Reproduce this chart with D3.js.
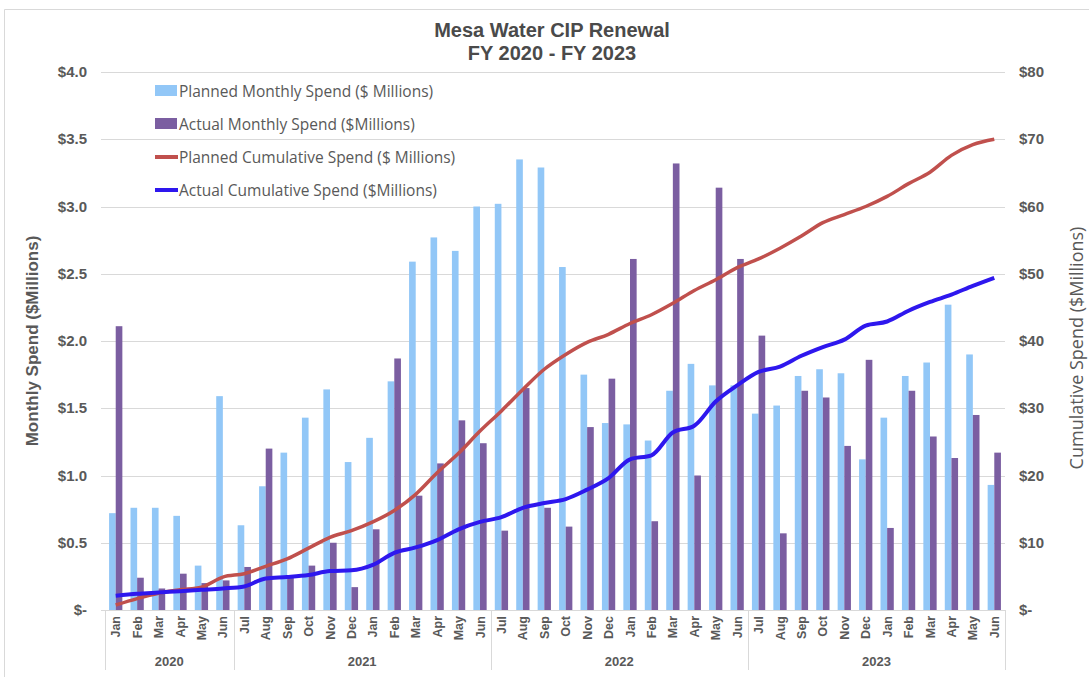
<!DOCTYPE html>
<html>
<head>
<meta charset="utf-8">
<script src="https://cdn.jsdelivr.net/npm/d3@7"></script>
<style>
  body { margin: 0; background: #fff; }
  svg { display: block; }
</style>
</head>
<body>
<svg id="chart" width="1089" height="677"></svg>
<script>
// month labels for each bar, grouped by fiscal year
const monthLabels = [
  "Jan", "Feb", "Mar", "Apr", "May", "Jun",
  "Jul", "Aug", "Sep", "Oct", "Nov", "Dec", "Jan", "Feb", "Mar", "Apr", "May", "Jun",
  "Jul", "Aug", "Sep", "Oct", "Nov", "Dec", "Jan", "Feb", "Mar", "Apr", "May", "Jun",
  "Jul", "Aug", "Sep", "Oct", "Nov", "Dec", "Jan", "Feb", "Mar", "Apr", "May", "Jun",
];
const yearLabels = ["2020", "2021", "2022", "2023"];
const monthsPerYear = [6, 12, 12, 12];

// $ millions
const plannedMonthly = [
  0.72, 0.76, 0.76, 0.7, 0.33, 1.59,
  0.63, 0.92, 1.17, 1.43, 1.64, 1.1, 1.28, 1.7, 2.59, 2.77, 2.67, 3.0,
  3.02, 3.35, 3.29, 2.55, 1.75, 1.39, 1.38, 1.26, 1.63, 1.83, 1.67, 1.67,
  1.46, 1.52, 1.74, 1.79, 1.76, 1.12, 1.43, 1.74, 1.84, 2.27, 1.9, 0.93,
];
const actualMonthly = [
  2.11, 0.24, 0.16, 0.27, 0.2, 0.22,
  0.32, 1.2, 0.25, 0.33, 0.5, 0.17, 0.6, 1.87, 0.85, 1.09, 1.41, 1.24,
  0.59, 1.65, 0.76, 0.62, 1.36, 1.72, 2.61, 0.66, 3.32, 1.0, 3.14, 2.61,
  2.04, 0.57, 1.63, 1.58, 1.22, 1.86, 0.61, 1.63, 1.29, 1.13, 1.45, 1.17,
];
const plannedCumulative = [
  0.74, 1.7, 2.5, 3.0, 3.4, 4.9,
  5.4, 6.5, 7.6, 9.2, 10.8, 11.8, 13.1, 14.8, 17.2, 20.4, 23.3, 26.6,
  29.6, 32.8, 35.8, 38.0, 39.8, 41.0, 42.6, 43.9, 45.6, 47.5, 49.1, 50.9,
  52.2, 53.8, 55.6, 57.6, 58.8, 60.0, 61.5, 63.4, 65.1, 67.6, 69.2, 70.0,
];
const actualCumulative = [
  2.1, 2.4, 2.6, 2.8, 3.0, 3.2,
  3.5, 4.7, 4.9, 5.2, 5.8, 5.9, 6.7, 8.5, 9.3, 10.4, 12.0, 13.1,
  13.8, 15.2, 15.9, 16.5, 17.9, 19.6, 22.4, 23.0, 26.4, 27.4, 31.0, 33.4,
  35.4, 36.2, 37.8, 39.1, 40.2, 42.3, 42.9, 44.5, 45.8, 46.9, 48.2, 49.4,
];
const leftTicks = [0, 0.5, 1, 1.5, 2, 2.5, 3, 3.5, 4];
const rightTicks = [0, 10, 20, 30, 40, 50, 60, 70, 80];

const legendItems = [
  { label: "Planned Monthly Spend ($ Millions)", type: "bar", color: "#92c7f7" },
  { label: "Actual Monthly Spend ($Millions)", type: "bar", color: "#7b5ea1" },
  { label: "Planned Cumulative Spend ($ Millions)", type: "line", color: "#c0504d" },
  { label: "Actual Cumulative Spend ($Millions)", type: "line", color: "#2e17ee" },
];

const width = 1089;
const height = 677;
const margin = { top: 72, right: 84, bottom: 67, left: 105 };
const textColor = "#595959";
const gridColor = "#d9d9d9";

const svg = d3.select("#chart");

// outer chart frame
svg.append("path")
  .attr("d", `M4.5,${height}V9.5H${width}`)
  .attr("fill", "none")
  .attr("stroke", gridColor);

const idx = d3.range(monthLabels.length);

const x = d3.scaleBand()
  .domain(idx)
  .range([margin.left, width - margin.right])
  .padding(0);

const yLeft = d3.scaleLinear()
  .domain([0, 4])
  .range([height - margin.bottom, margin.top]);

const yRight = d3.scaleLinear()
  .domain([0, 80])
  .range([height - margin.bottom, margin.top]);

const barW = x.bandwidth() * 0.31;
const cx = (i) => x(i) + x.bandwidth() / 2;

// gridlines
svg.append("g")
  .selectAll("line")
  .data(leftTicks)
  .join("line")
  .attr("x1", margin.left - 4)
  .attr("x2", width - margin.right)
  .attr("y1", (d) => Math.round(yLeft(d)) + 0.5)
  .attr("y2", (d) => Math.round(yLeft(d)) + 0.5)
  .attr("stroke", gridColor)
  .attr("stroke-width", 1);

// left axis labels
svg.append("g")
  .selectAll("text")
  .data(leftTicks)
  .join("text")
  .attr("x", 87)
  .attr("y", (d) => yLeft(d) + 5)
  .attr("text-anchor", "end")
  .attr("font-family", "Liberation Sans, Arial, sans-serif")
  .attr("font-size", "15px")
  .attr("font-weight", "bold")
  .attr("fill", textColor)
  .text((d) => (d === 0 ? "$-" : "$" + d.toFixed(1)));

// right axis labels
svg.append("g")
  .selectAll("text")
  .data(rightTicks)
  .join("text")
  .attr("x", 1019)
  .attr("y", (d) => yRight(d) + 5)
  .attr("text-anchor", "start")
  .attr("font-family", "Liberation Sans, Arial, sans-serif")
  .attr("font-size", "15px")
  .attr("font-weight", "bold")
  .attr("fill", textColor)
  .text((d) => (d === 0 ? "$-" : "$" + d));

// bars
svg.append("g")
  .selectAll("rect")
  .data(idx)
  .join("rect")
  .attr("x", (i) => cx(i) - barW)
  .attr("y", (i) => yLeft(plannedMonthly[i]))
  .attr("width", barW)
  .attr("height", (i) => yLeft(0) - yLeft(plannedMonthly[i]))
  .attr("fill", legendItems[0].color);

svg.append("g")
  .selectAll("rect")
  .data(idx)
  .join("rect")
  .attr("x", (i) => cx(i))
  .attr("y", (i) => yLeft(actualMonthly[i]))
  .attr("width", barW)
  .attr("height", (i) => yLeft(0) - yLeft(actualMonthly[i]))
  .attr("fill", legendItems[1].color);

// cumulative lines
const line = d3.line()
  .x((d, i) => cx(i))
  .y((d) => yRight(d))
  .curve(d3.curveMonotoneX);

svg.append("path")
  .datum(plannedCumulative)
  .attr("fill", "none")
  .attr("stroke", legendItems[2].color)
  .attr("stroke-width", 3.5)
  .attr("stroke-linejoin", "round")
  .attr("d", line);

svg.append("path")
  .datum(actualCumulative)
  .attr("fill", "none")
  .attr("stroke", legendItems[3].color)
  .attr("stroke-width", 4)
  .attr("stroke-linejoin", "round")
  .attr("d", line);

// x axis: months then fiscal years
const baseY = yLeft(0);
svg.append("line")
  .attr("x1", margin.left)
  .attr("x2", width - margin.right)
  .attr("y1", Math.round(baseY) + 0.5)
  .attr("y2", Math.round(baseY) + 0.5)
  .attr("stroke", gridColor);

svg.append("g")
  .selectAll("text")
  .data(idx)
  .join("text")
  .attr("transform", (i) => `translate(${cx(i) + 4.5},${baseY + 6}) rotate(-90)`)
  .attr("text-anchor", "end")
  .attr("font-family", "Liberation Sans, Arial, sans-serif")
  .attr("font-size", "12.5px")
  .attr("font-weight", "bold")
  .attr("fill", textColor)
  .text((i) => monthLabels[i]);

const starts = d3.cumsum([0, ...monthsPerYear]);
svg.append("g")
  .selectAll("line")
  .data(starts)
  .join("line")
  .attr("x1", (s) => Math.round(s < idx.length ? x(s) : x(idx.length - 1) + x.bandwidth()) + 0.5)
  .attr("x2", (s) => Math.round(s < idx.length ? x(s) : x(idx.length - 1) + x.bandwidth()) + 0.5)
  .attr("y1", baseY)
  .attr("y2", baseY + 60)
  .attr("stroke", gridColor);

svg.append("g")
  .selectAll("text")
  .data(yearLabels)
  .join("text")
  .attr("x", (d, k) => (x(starts[k]) + x(starts[k + 1] - 1) + x.bandwidth()) / 2)
  .attr("y", baseY + 56)
  .attr("text-anchor", "middle")
  .attr("font-family", "Liberation Sans, Arial, sans-serif")
  .attr("font-size", "13px")
  .attr("font-weight", "bold")
  .attr("fill", textColor)
  .text((d) => d);

// axis titles
svg.append("text")
  .attr("transform", `translate(38,${(margin.top + baseY) / 2}) rotate(-90)`)
  .attr("text-anchor", "middle")
  .attr("font-family", "Liberation Sans, Arial, sans-serif")
  .attr("font-size", "17px")
  .attr("font-weight", "bold")
  .attr("fill", textColor)
  .text("Monthly Spend ($Millions)");

svg.append("text")
  .attr("transform", `translate(1083,${(margin.top + baseY) / 2 + 7}) rotate(-90)`)
  .attr("text-anchor", "middle")
  .attr("font-family", "Open Sans, sans-serif")
  .attr("font-size", "18px")
  .attr("fill", textColor)
  .text("Cumulative Spend ($Millions)");

// title
const title = svg.append("text")
  .attr("text-anchor", "middle")
  .attr("font-family", "Liberation Sans, Arial, sans-serif")
  .attr("font-size", "20px")
  .attr("font-weight", "bold")
  .attr("fill", "#4a4a4a");
title.append("tspan").attr("x", 552).attr("y", 37).text("Mesa Water CIP Renewal");
title.append("tspan").attr("x", 552).attr("y", 60).text("FY 2020 - FY 2023");

// legend
const legend = svg.append("g").attr("transform", "translate(155,91)");
const rows = legend.selectAll("g")
  .data(legendItems)
  .join("g")
  .attr("transform", (d, i) => `translate(0,${i * 33})`);

rows.filter((d) => d.type === "bar")
  .append("rect")
  .attr("x", 0)
  .attr("y", -6)
  .attr("width", 22)
  .attr("height", 11)
  .attr("fill", (d) => d.color);

rows.filter((d) => d.type === "line")
  .append("line")
  .attr("x1", 0)
  .attr("x2", 23)
  .attr("y1", 0)
  .attr("y2", 0)
  .attr("stroke", (d) => d.color)
  .attr("stroke-width", 4);

rows.append("text")
  .attr("x", 24)
  .attr("y", 5.5)
  .attr("font-family", "Open Sans, sans-serif")
  .attr("font-size", "15.5px")
  .attr("fill", textColor)
  .text((d) => d.label);
</script>
</body>
</html>
